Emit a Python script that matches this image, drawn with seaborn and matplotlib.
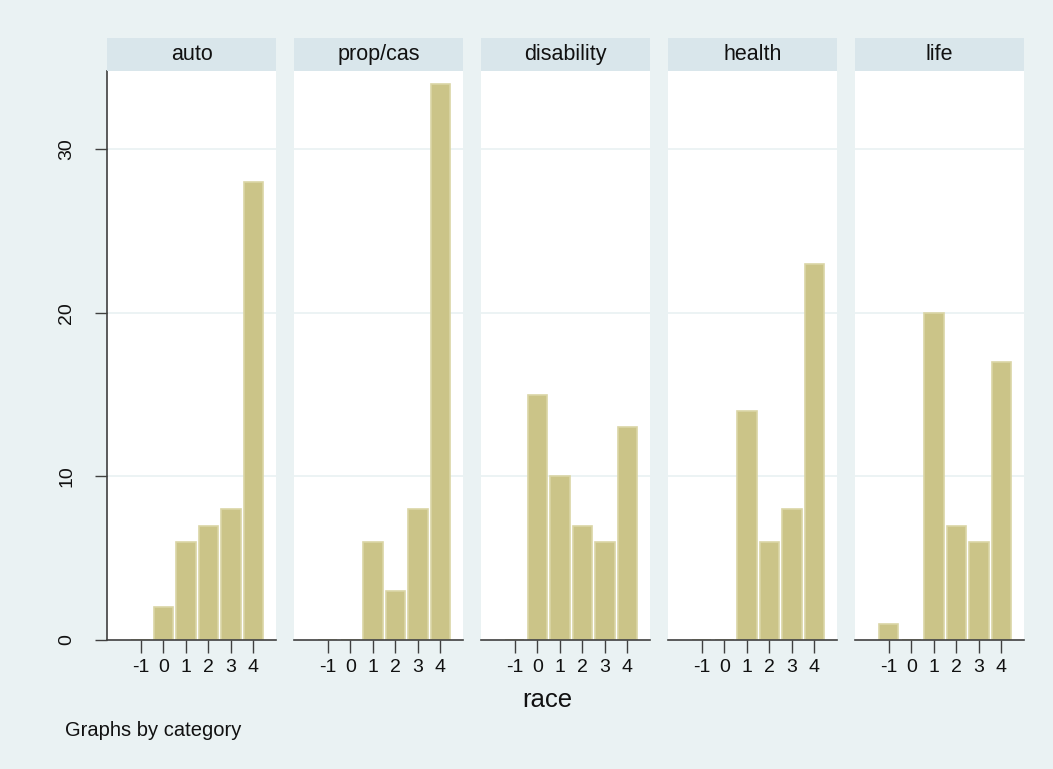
import numpy as np
import pandas as pd
import matplotlib
matplotlib.use("Agg")
import matplotlib.pyplot as plt
import seaborn as sns
from matplotlib.patches import Rectangle

# data
categories = ["auto", "prop/cas", "disability", "health", "life"]
race = [-1, 0, 1, 2, 3, 4]
counts_auto = [0, 2, 6, 7, 8, 28]
counts_propcas = [0, 0, 6, 3, 8, 34]
counts_disability = [0, 15, 10, 7, 6, 13]
counts_health = [0, 0, 14, 6, 8, 23]
counts_life = [1, 0, 20, 7, 6, 17]
y_ticks = [0, 10, 20, 30]

series = [counts_auto, counts_propcas, counts_disability, counts_health, counts_life]
df = pd.concat(
    [pd.DataFrame({"category": c, "race": race, "freq": v}) for c, v in zip(categories, series)],
    ignore_index=True,
)

sns.set_theme(style="white")
plt.rcParams["font.family"] = ["Liberation Sans", "DejaVu Sans"]

BG = "#EAF2F3"
STRIP = "#D9E6EB"
BAR = "#CBC488"
BAR_EDGE = "#DAD5A6"
AXCOL = "#404040"
TXT = "#111111"

W, H = 1053, 769
fig = plt.figure(figsize=(W / 100, H / 100), dpi=100)
fig.patch.set_facecolor(BG)

lefts = [107, 294, 481, 668, 855]
pw = 169
top, bottom = 71, 640
strip_top = 38

for i, (cat, left) in enumerate(zip(categories, lefts)):
    ax = fig.add_axes([left / W, (H - bottom) / H, pw / W, (bottom - top) / H])
    sub = df[df["category"] == cat]
    sns.barplot(
        data=sub, x="race", y="freq", ax=ax, native_scale=True,
        color=BAR, edgecolor=BAR_EDGE, linewidth=1.2, width=0.86,
        saturation=1, errorbar=None,
    )
    ax.set_facecolor("white")
    ax.set_xlim(-2.5, 5.0)
    ax.set_ylim(0, 34.8)
    ax.set_xticks(race)
    ax.set_xticklabels([str(r) for r in race], fontsize=14, color=TXT)
    ax.set_xlabel("")
    ax.set_ylabel("")
    for y in y_ticks[1:]:
        ax.axhline(y, color=BG, lw=1.3, zorder=0)
    for s in ["top", "right"]:
        ax.spines[s].set_visible(False)
    ax.spines["bottom"].set_color(AXCOL)
    ax.spines["bottom"].set_linewidth(1.2)
    ax.tick_params(axis="x", length=9, width=1, color=AXCOL, pad=5, bottom=True)
    if i == 0:
        ax.spines["left"].set_color(AXCOL)
        ax.spines["left"].set_linewidth(1.2)
        ax.set_yticks(y_ticks)
        ax.set_yticklabels([str(t) for t in y_ticks], rotation=90, va="center",
                           fontsize=14, color=TXT)
        ax.tick_params(axis="y", length=9, width=1, color=AXCOL, pad=14, left=True)
    else:
        ax.spines["left"].set_visible(False)
        ax.set_yticks([])

    # strip header
    fig.patches.append(Rectangle((left / W, (H - top) / H), pw / W, (top - strip_top) / H,
                                 transform=fig.transFigure, facecolor=STRIP,
                                 edgecolor="none", zorder=0))
    fig.text((left + pw / 2) / W, (H - (top + strip_top) / 2) / H, cat,
             ha="center", va="center", fontsize=15.5, color=TXT)

fig.text(547 / W, (H - 700) / H, "race", ha="center", va="center", fontsize=18.5, color=TXT)
fig.text(65 / W, (H - 731) / H, "Graphs by category", ha="left", va="center",
         fontsize=14.5, color=TXT)

fig.savefig("out.png", dpi=100, facecolor=BG)
